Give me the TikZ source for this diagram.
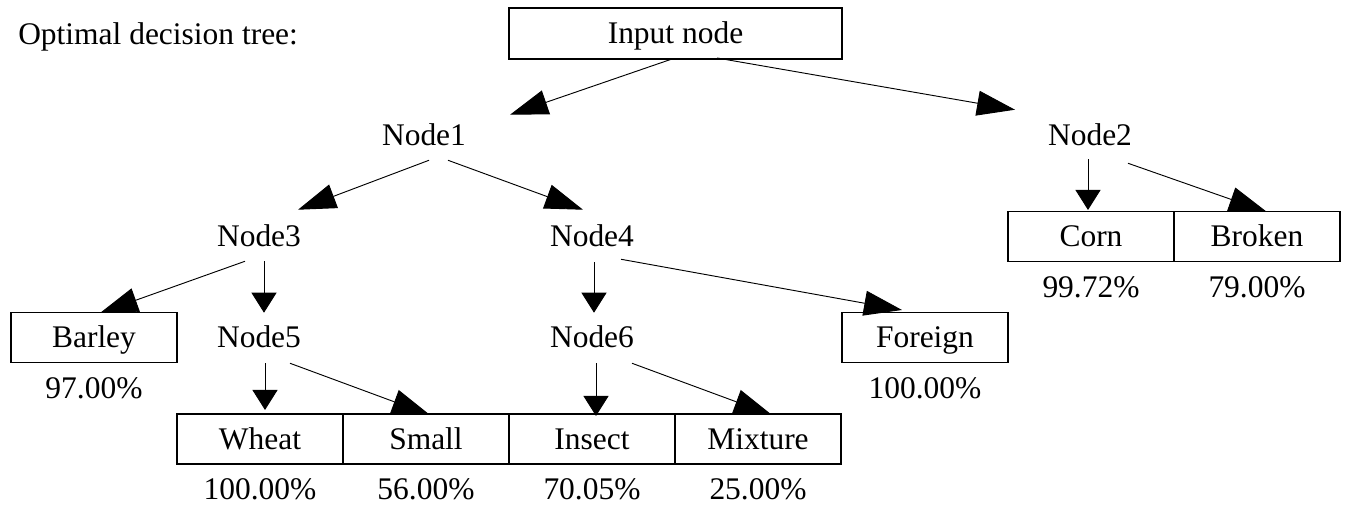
\documentclass[tikz,border=0pt]{standalone}
\usepackage{fontspec}
\setmainfont{Liberation Serif}
\usetikzlibrary{arrows.meta}
\usetikzlibrary{positioning}
\usetikzlibrary{calc}

\tikzset{
  split/.style={inner xsep=0pt, inner ysep=10.5pt, text height=15.6pt, text depth=0pt, anchor=base},
  leaf/.style={draw, line width=0.9pt, minimum width=124.5pt, minimum height=37.5pt, inner sep=0pt, outer sep=0pt, text height=15.6pt, text depth=0pt},
  rate/.style={inner sep=0pt, text height=15.6pt, text depth=0pt},
  branch/.style={line width=0.7pt, -{Triangle[length=28.5pt,width=18.75pt]}},
  branchdown/.style={line width=0.7pt, -{Triangle[length=15pt,width=18.75pt]}},
}

\begin{document}
\begin{tikzpicture}[x=0.75pt,y=0.75pt,yscale=-1,xscale=1,font=\fontsize{23.6pt}{28pt}\selectfont]
\useasboundingbox (0,0) rectangle (1345,505); %keep the page at 1345 x 505

% Text Node
\node [anchor=base west, inner sep=0pt] (title) at (18,45) {Optimal decision tree:};
%Shape: Rectangle
\node [leaf, minimum width=249.75pt, minimum height=38.25pt] (input) at (675.5,33.5) {Input node};

% Text Node
\node [split] (node1) at (424,146) {Node1};
% Text Node
\node [split] (node2) at (1090,146) {Node2};
% Text Node
\node [split] (node3) at (259,247) {Node3};
% Text Node
\node [split] (node4) at (592,247) {Node4};
% Text Node
\node [split] (node5) at (259,348) {Node5};
% Text Node
\node [split] (node6) at (592,348) {Node6};

%Shape: Rectangle
\node [leaf] (barley) at (94,337.5) {Barley};
\node [leaf] (foreign) at (925,337.5) {Foreign};
\node [leaf] (corn) at (1091,236.5) {Corn};
\node [leaf, right=0pt of corn] (broken) {Broken};
\node [leaf] (wheat) at (260,439) {Wheat};
\node [leaf, right=0pt of wheat] (small) {Small};
\node [leaf, right=0pt of small] (insect) {Insect};
\node [leaf, right=0pt of insect] (mixture) {Mixture};

% Text Node
\node [rate, below=11pt of barley] (rbarley) {97.00\%};
\node [rate, below=11pt of foreign] (rforeign) {100.00\%};
\node [rate, below=11pt of corn] (rcorn) {99.72\%};
\node [rate, below=11pt of broken] (rbroken) {79.00\%};
\node [rate, below=11pt of wheat] (rwheat) {100.00\%};
\node [rate, below=11pt of small] (rsmall) {56.00\%};
\node [rate, below=11pt of insect] (rinsect) {70.05\%};
\node [rate, below=11pt of mixture] (rmixture) {25.00\%};

%Straight Lines
\draw [branch] ($(input.south)+(-3.5,0)$) -- ($(node1.north)+(86,3.8)$);
\draw [branch] ($(input.south)+(41.5,-1)$) -- ($(node2.north)+(-75,-1.2)$);
\draw [branch] ($(node1.south)+(5,0)$) -- ($(node3.north)+(39,-2.2)$);
\draw [branch] ($(node1.south)+(24,0)$) -- ($(node4.north)+(-9,-2.2)$);
\draw [branchdown] ($(node2.south)+(-2,-1)$) -- ($(corn.north)+(-3,-1.5)$);
\draw [branch] ($(node2.south)+(38,3)$) -- ($(broken.north)+(10,0.5)$);
\draw [branch] ($(node3.south)+(-14,0)$) -- ($(barley.north)+(6,0.5)$);
\draw [branchdown] ($(node3.south)+(5,0)$) -- ($(node5.north)+(5,-0.2)$);
\draw [branchdown] ($(node4.south)+(2,1)$) -- ($(node6.north)+(2,-0.2)$);
\draw [branch] ($(node4.south)+(29,-2)$) -- ($(foreign.north)+(-23,-2.5)$);
\draw [branchdown] ($(node5.south)+(6,1)$) -- ($(wheat.north)+(5,-4)$);
\draw [branch] ($(node5.south)+(31,1)$) -- ($(small.north)+(4,1)$);
\draw [branchdown] ($(node6.south)+(4,1)$) -- ($(insect.north)+(4,2)$);
\draw [branch] ($(node6.south)+(40,1)$) -- ($(mixture.north)+(14,1)$);

\end{tikzpicture}
\end{document}
